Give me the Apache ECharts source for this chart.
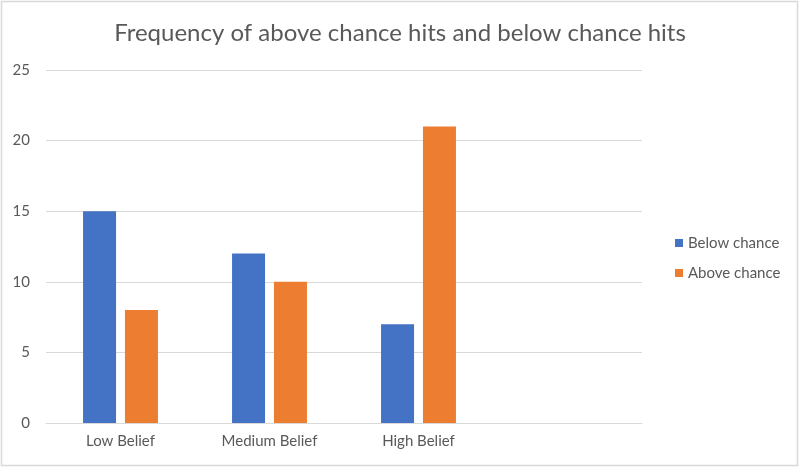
<!DOCTYPE html>
<html><head><meta charset="utf-8">
<script src="https://cdn.jsdelivr.net/npm/echarts@6/dist/echarts.min.js"></script>
<style>html,body{margin:0;padding:0;background:#fff}#c{width:800px;height:468px}</style>
</head><body><div id="c"></div>
<script>
var categories = ['Low Belief', 'Medium Belief', 'High Belief', ''];
var belowChance = [15, 12, 7, null];
var aboveChance = [8, 10, 21, null];
var yTicks = [0, 5, 10, 15, 20, 25];
var FONT = 'Lato';
var chart = echarts.init(document.getElementById('c'));
chart.setOption({
  animation: false,
  backgroundColor: '#fff',
  textStyle: { fontFamily: FONT },
  title: {
    text: 'Frequency of above chance hits and below chance hits',
    left: 'center', top: 16,
    textStyle: { fontFamily: FONT, fontSize: 24, fontWeight: 'normal', color: '#595959' }
  },
  graphic: [{
    type: 'rect', shape: { x: 1.5, y: 1.5, width: 796, height: 464 },
    style: { fill: 'none', stroke: '#d9d9d9', lineWidth: 1.5 }, silent: true
  }],
  legend: {
    orient: 'vertical', left: 670, top: 229, itemGap: 12,
    itemWidth: 8, itemHeight: 8, icon: 'rect',
    textStyle: { fontFamily: FONT, fontSize: 15, color: '#595959', lineHeight: 18 }
  },
  grid: { left: 46, right: 158, top: 70, bottom: 45 },
  xAxis: {
    type: 'category', data: categories,
    axisLine: { lineStyle: { color: '#d9d9d9', width: 1 } },
    axisTick: { show: false },
    axisLabel: { fontFamily: FONT, fontSize: 15, color: '#595959', margin: 11 }
  },
  yAxis: {
    type: 'value', min: yTicks[0], max: yTicks[yTicks.length - 1], interval: 5,
    axisLine: { show: false }, axisTick: { show: false },
    splitLine: { lineStyle: { color: '#d9d9d9', width: 1 } },
    axisLabel: { fontFamily: FONT, fontSize: 15, color: '#595959', margin: 16 }
  },
  series: [
    { name: 'Below chance', type: 'bar', data: belowChance, barWidth: 33, barGap: '27%',
      itemStyle: { color: '#4472c4' } },
    { name: 'Above chance', type: 'bar', data: aboveChance, barWidth: 33,
      itemStyle: { color: '#ed7d31' } }
  ]
});
</script></body></html>
